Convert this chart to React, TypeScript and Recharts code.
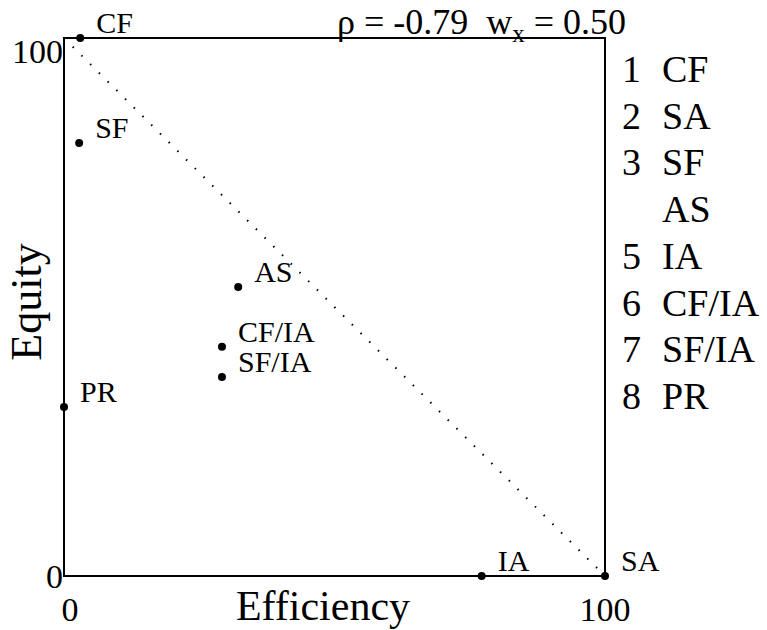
import React from 'react';
import { ScatterChart, Scatter, XAxis, YAxis, ReferenceArea, ReferenceLine } from 'recharts';

// point labels and coordinates (0-100 scales)
const names = ['CF', 'SF', 'AS', 'CF/IA', 'SF/IA', 'PR', 'IA', 'SA'];
const efficiency = [3, 2.8, 32.2, 29.2, 29.2, 0, 77.2, 100];
const equity = [100, 80.5, 53.7, 42.6, 37.0, 31.4, 0, 0];

// ranking shown at the right
const legendRanks = ['1', '2', '3', '', '5', '6', '7', '8'];
const legendNames = ['CF', 'SA', 'SF', 'AS', 'IA', 'CF/IA', 'SF/IA', 'PR'];

const axisTicks = [0, 100];
const rho = '-0.79';
const wx = '0.50';

const FONT = 'Liberation Serif';

const points = names.map((name, i) => ({ name, x: efficiency[i], y: equity[i] }));

const PointShape = (props: any) => {
  const { cx, cy, payload } = props;
  return (
    <g>
      <circle cx={cx} cy={cy} r={4} fill="#000" />
      <text x={cx + 16} y={cy - 5} fontSize={30} fontFamily={FONT} fill="#000">
        {payload.name}
      </text>
    </g>
  );
};

const XTick = (props: any) => {
  const { x, y, payload } = props;
  const shift = payload.value === 0 ? 6 : 0;
  return (
    <text x={x + shift} y={y + 45} textAnchor="middle" fontSize={34} fontFamily={FONT} fill="#000">
      {payload.value}
    </text>
  );
};

const YTick = (props: any) => {
  const { x, y, payload } = props;
  const shift = payload.value === 100 ? 13 : 0;
  return (
    <text x={x} y={y + shift} dy="0.35em" textAnchor="end" fontSize={34} fontFamily={FONT} fill="#000">
      {payload.value}
    </text>
  );
};

export default function App() {
  return (
    <div style={{ position: 'absolute', left: 0, top: 0, width: 767, height: 630, background: '#fff' }}>
      <ScatterChart width={767} height={630} margin={{ top: 38, right: 162, bottom: 24, left: 24 }}>
        <XAxis
          type="number"
          dataKey="x"
          domain={[0, 100]}
          ticks={axisTicks}
          height={30}
          axisLine={false}
          tickLine={false}
          tickSize={0}
          tickMargin={0}
          tick={<XTick />}
        />
        <YAxis
          type="number"
          dataKey="y"
          domain={[0, 100]}
          ticks={axisTicks}
          width={40}
          axisLine={false}
          tickLine={false}
          tickSize={0}
          tickMargin={1}
          tick={<YTick />}
        />
        <ReferenceArea x1={0} x2={100} y1={0} y2={100} fill="none" stroke="#000" strokeWidth={2} fillOpacity={0} />
        <ReferenceLine
          segment={[{ x: 0, y: 100 }, { x: 100, y: 0 }]}
          stroke="#000"
          strokeWidth={2}
          strokeDasharray="1.5 10.8"
        />
        <Scatter data={points} fill="#000" shape={<PointShape />} isAnimationActive={false} />
      </ScatterChart>
      <svg width={767} height={630} style={{ position: 'absolute', left: 0, top: 0, pointerEvents: 'none' }}>
        <text x={323} y={620} textAnchor="middle" fontSize={42} fontFamily={FONT} fill="#000">Efficiency</text>
        <text
          x={41}
          y={302}
          textAnchor="middle"
          fontSize={44}
          fontFamily={FONT}
          fill="#000"
          transform="rotate(-90 41 302)"
        >
          Equity
        </text>
        <text x={337} y={34} fontSize={36} fontFamily={FONT} fill="#000" style={{ whiteSpace: 'pre' }}>
          <tspan>{'ρ = ' + rho + '  w'}</tspan>
          <tspan fontSize={25} dy={8}>x</tspan>
          <tspan dy={-8}>{' = ' + wx}</tspan>
        </text>
        {legendNames.map((n, i) => (
          <g key={n}>
            <text x={622} y={82 + i * 46.7} fontSize={38} fontFamily={FONT} fill="#000">{legendRanks[i]}</text>
            <text x={662} y={82 + i * 46.7} fontSize={38} fontFamily={FONT} fill="#000">{n}</text>
          </g>
        ))}
      </svg>
    </div>
  );
}
